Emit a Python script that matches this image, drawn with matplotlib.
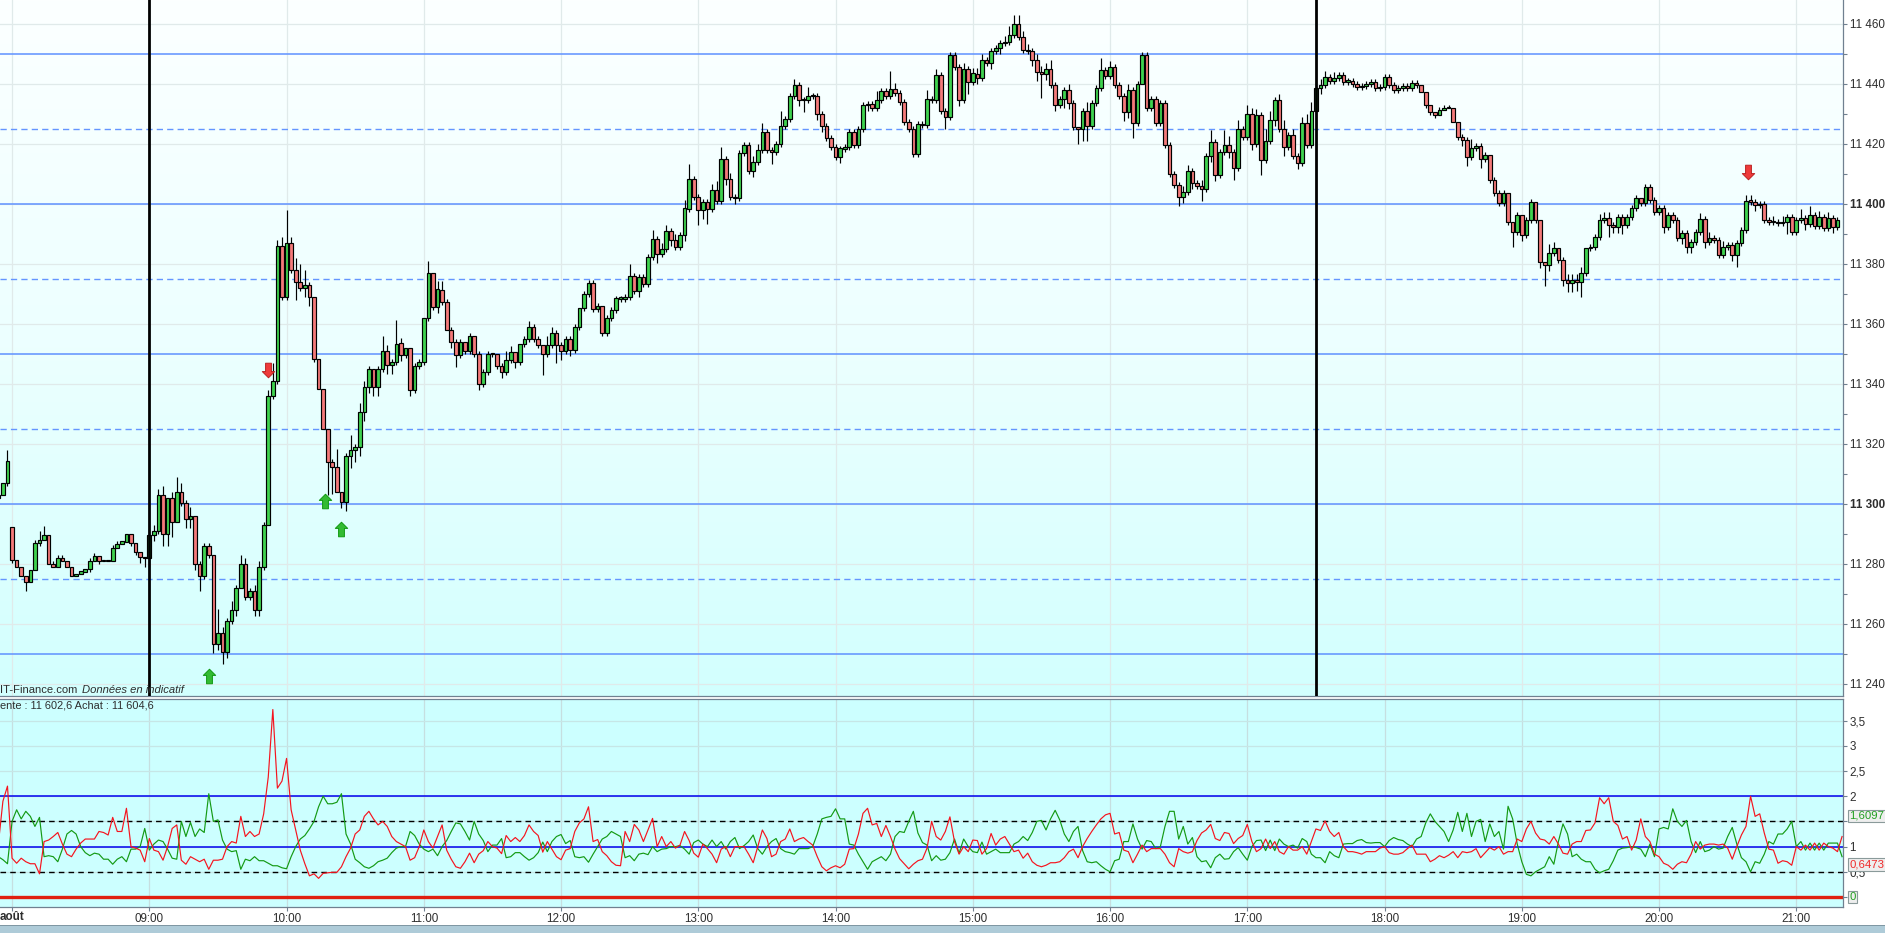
import matplotlib
matplotlib.use('Agg')
import matplotlib.pyplot as plt
import numpy as np
from matplotlib.colors import LinearSegmentedColormap
from matplotlib.path import Path
from matplotlib.patches import Rectangle

plt.rcParams['font.family'] = ['Liberation Sans', 'DejaVu Sans']

W, H = 1885, 933

# ---------- price data: 2-minute bars ----------
night_open = 11302
night_close = [11303, 11307, 11314.5]
night_up = [0, 0, 3.5]
night_dn = [0, 0, 1]

day_open = 11292.4
close_08 = [11281.3,11279,11276,11274,11278,11287,11288,11289.7,11280,11279,11282,11281,11279,11276,11276.7,11277.5,11278.5,11281,11282.7,11281,11281.5,11281,11285.5,11286.7,11287.5,11290,11287,11284,11282.5,11282]
close_09 = [11289.7,11291,11303,11290,11302,11294,11304,11300.5,11295,11296,11280,11276,11286,11283,11253.5,11257,11250.8,11261,11264.7,11272,11280,11269,11271,11264.7,11279,11293,11336,11341,11386,11369]
close_10 = [11387,11378,11374,11372,11373,11369,11348.5,11338.5,11325,11314,11312.4,11304,11300.7,11316,11318,11319,11330.7,11339,11345,11339,11345,11351,11346.3,11347.4,11353.5,11349.6,11352,11338,11346,11347.4]
close_11 = [11362,11377,11365.7,11371.5,11367.4,11358,11354,11349.6,11354,11351,11356,11350,11340,11344,11350,11350,11346,11344,11348,11350.7,11347.4,11353.5,11355,11359,11355,11353,11350,11353,11357,11353]
close_12 = [11351,11355,11351.5,11359,11365.5,11370,11373.7,11365,11366,11356.9,11362,11364.6,11368.5,11368.5,11369,11376,11371,11375.8,11373.5,11382.4,11388.5,11383.5,11385,11391,11388,11385.7,11389.6,11398.5,11408.5,11402.4]
close_13 = [11398,11400.7,11398.5,11404.6,11401,11415,11408.5,11402.4,11401.9,11416.9,11419.6,11411,11414,11418,11424,11418,11417.4,11420,11426,11428.5,11436,11439.6,11434.6,11434.6,11436,11436,11430,11426,11422,11419]
close_14 = [11415.7,11418.5,11419,11424,11419.6,11425,11433,11433.5,11431.9,11434.6,11437.7,11436,11438.5,11437,11434,11427.4,11425,11416.6,11426.6,11426.3,11434.9,11434.6,11443,11431,11429,11449.6,11445.7,11434.6,11445,11440.7]
close_15 = [11443.5,11441.9,11448,11447,11451,11452,11453.6,11454,11456.3,11460,11455.6,11451.3,11451,11448,11444,11443.5,11445,11439.7,11433,11435,11438,11433.6,11425.8,11425,11431,11426,11433.6,11438.6,11444.7,11442.7]
close_16 = [11445.8,11439.7,11436,11430.8,11438,11427,11440,11449.7,11431.9,11435,11427,11433.6,11419.7,11410,11406.3,11402.4,11404,11411,11407,11406,11405,11416,11420.8,11409.7,11417.4,11419.7,11417.4,11412,11425,11422.4]
close_17 = [11430,11420,11429.7,11414.7,11421,11428,11434.7,11425,11419,11423,11416,11413.6,11427,11419.7,11431,11438.6,11439.7,11442.4,11441,11442,11443,11440.8,11441,11440,11439,11439.3,11440,11440.8,11438.6,11439]
close_18 = [11442.4,11439.7,11438,11438.6,11439.3,11438.6,11440.4,11439.7,11437.4,11433,11430.8,11429.7,11431.3,11431.9,11431.9,11427.4,11422.4,11421.3,11415.8,11418.6,11419.3,11415,11416.3,11408,11403.6,11400.4,11403.8,11394,11390.8,11396.3]
close_19 = [11389.7,11394.7,11400.8,11394.7,11380.8,11379.7,11383.6,11385.2,11381.3,11374.7,11373.6,11374.7,11374,11376.9,11385.2,11385.8,11389,11394.7,11395.2,11393,11392.4,11395.8,11393,11395.8,11398.6,11401.9,11400.2,11405.8,11401.3,11397.4]
close_20 = [11398.6,11392.4,11396.3,11394.7,11388.6,11390.2,11385.8,11387.4,11390.8,11394.9,11387.4,11388.6,11388,11383,11385.8,11386.3,11383,11386.9,11391.3,11401,11400.8,11399.7,11400,11394.7,11394,11394,11393.6,11394,11395.8,11390.8]
close_21 = [11394.7,11395.2,11393.3,11396.3,11392.7,11395.8,11391.9,11395.2,11392.4,11394.7]

up_08 = [0,0,0,0,0,1,3,3,0,1,1,1,0,0,0,0,0,1,1,0,0,0,1,1,0,0,0,0,0,0]
dn_08 = [1,0,0,3,0,0,1,0,0,0,0,0,0,0,0,0,0,1,0,1,0,0,0,0,0,0,1,1,2,3]
up_09 = [2,2,2,3,0,2,5,3,1,3,0,1,1,1,0,8,2,1,3,1,3,2,1,2,2,1,2,6,2,3]
dn_09 = [3,2,1,4,4,5,0,1,3,3,2,5,1,1,3,2,4,2,1,2,0,1,1,2,2,1,0,1,1,1]
up_10 = [11,2,4,6,5,1,0,0,0,0,1,6,0,1,5,1,3,2,1,0,1,5,2,1,8,2,0,0,1,1]
dn_10 = [1,1,6,1,3,3,1,0,0,11,9,0,2,3,4,4,3,3,2,3,3,1,3,3,1,2,1,2,1,1]
up_11 = [0,4,0,3,3,1,1,1,1,0,1,0,1,1,1,0,0,1,3,2,0,0,1,2,1,1,0,3,2,1]
dn_11 = [1,1,1,2,1,0,2,4,1,1,1,1,2,1,1,1,1,2,1,1,2,1,1,1,1,1,7,1,1,6]
up_12 = [1,1,1,1,0,1,1,1,1,0,1,1,1,1,1,4,1,1,1,1,3,1,2,2,1,2,1,3,5,1]
dn_12 = [3,1,2,1,1,1,1,1,1,1,1,1,1,1,1,1,1,2,1,1,1,3,1,1,2,1,1,2,1,1]
up_13 = [1,1,1,2,3,4,1,2,1,1,1,1,2,2,3,1,1,1,5,1,1,2,1,1,3,1,1,1,1,1]
dn_13 = [5,3,5,1,1,1,2,1,2,1,1,1,2,1,1,1,4,1,1,1,1,1,2,4,1,1,2,2,1,1]
up_14 = [1,1,1,1,1,1,1,1,1,3,1,1,6,2,1,1,1,1,1,1,3,1,2,1,1,1,1,1,2,1]
dn_14 = [1,2,1,1,1,1,1,2,1,1,1,1,1,1,1,1,1,1,1,1,1,1,1,1,4,1,1,2,1,4]
up_15 = [2,2,2,1,1,1,1,2,3,3,3,2,2,1,2,2,2,3,1,1,1,2,1,0,1,3,1,1,4,1]
dn_15 = [1,2,1,1,2,1,2,1,1,1,1,1,1,2,3,8,2,1,2,1,3,2,1,5,4,5,1,1,1,1]
up_16 = [2,1,1,1,2,1,1,1,1,1,1,1,1,1,1,1,2,2,1,1,2,1,4,1,1,5,3,1,3,1]
dn_16 = [1,1,1,3,2,5,1,0,1,1,1,1,1,1,1,3,2,1,2,1,4,1,2,2,1,1,2,4,1,1]
up_17 = [3,2,2,1,4,3,1,2,3,1,2,1,2,3,3,1,2,2,1,2,1,1,1,1,1,1,1,1,1,1]
dn_17 = [1,2,1,5,1,1,2,1,3,1,1,2,1,1,1,1,2,1,1,1,1,1,1,1,1,1,1,1,1,1]
up_18 = [1,1,1,1,1,1,1,1,0,0,0,0,1,1,1,0,0,1,1,3,1,1,1,0,1,1,1,0,0,1]
dn_18 = [1,1,1,1,1,1,1,1,0,1,1,1,0,0,0,0,1,2,3,1,1,3,1,1,1,1,1,1,5,1]
up_19 = [0,1,1,0,0,0,3,2,0,1,2,2,2,2,0,1,1,2,2,2,1,1,1,1,1,1,0,1,1,1]
dn_19 = [2,1,1,1,2,7,2,1,1,2,3,3,3,5,1,1,1,1,1,4,2,2,3,1,1,1,1,1,1,1]
up_20 = [1,1,1,1,1,1,1,1,1,2,1,2,1,1,2,1,1,1,1,2,2,1,1,1,1,2,1,2,1,1]
dn_20 = [1,2,1,1,1,2,2,2,1,1,2,1,1,1,1,1,2,4,1,1,1,2,1,1,1,1,1,1,4,1]
up_21 = [1,3,1,3,1,2,1,2,1,1]
dn_21 = [1,1,2,1,1,1,1,1,2,1]

# ---------- indicator data ----------
red_line = [1.05,1.9,2.2,
 .77,.67,.77,.7,.66,.66,.46,1.1,1.13,1.2,1.28,1.05,.85,.8,.95,1.07,1.15,1.15,1.15,1.3,1.28,1.23,1.58,1.3,1.3,1.76,1.0,.97,.93,.7,
 1.16,.93,.9,.73,1.0,1.36,1.43,.73,.65,.8,.75,.7,.75,.55,.73,.73,.75,1.0,1.1,1.07,1.6,1.2,1.3,1.2,1.25,1.65,2.38,3.72,2.16,2.3,
 2.75,1.73,1.33,.93,.66,.42,.46,.37,.47,.48,.49,.49,.6,.8,.97,1.25,1.33,1.6,1.7,1.55,1.43,1.5,1.4,1.2,1.1,1.05,1.0,.73,.78,1.0,
 1.33,1.1,.97,1.2,1.43,.93,.75,.6,.57,.7,.87,.68,.85,.92,1.1,1.0,.97,
 .86,1.22,1.1,1.18,1.1,1.22,1.43,1.3,1.22,.89,1.1,.95,.8,
 .74,.93,.96,1.3,1.47,1.55,1.79,1.1,1.14,.9,.82,.7,.63,.62,1.3,1.1,1.44,1.33,1.1,1.33,1.56,1.0,1.2,1.0,1.1,.97,1.03,1.3,1.12,.87,
 .79,1.05,.96,.85,.68,.95,1.0,.8,1.0,1.0,1.0,.85,.68,1.0,1.33,1.16,.8,.85,1.1,1.15,1.35,1.1,1.15,1.18,1.1,1.03,.8,.6,.52,.58,
 .62,.58,.65,.95,.96,1.25,1.66,1.76,1.43,1.46,1.2,1.42,1.2,.95,.76,.66,.56,.65,.72,.75,.97,1.5,1.2,1.13,1.3,1.59,1.1,.85,1.0,.9,
 1.13,1.12,.85,.96,1.26,1.03,1.15,1.2,1.05,.9,
 .93,.77,.87,.7,.63,.6,.63,.68,.68,.7,.78,.9,.95,.78,1.0,1.16,1.3,1.43,1.55,1.63,
 1.66,1.25,1.28,.93,.9,.68,.85,1.03,.9,.96,.96,.96,.85,.68,.6,.96,.9,.87,.9,1.12,1.27,1.33,1.44,1.16,1.12,1.28,1.26,1.06,1.16,1.22,
 1.44,1.1,.9,.96,1.15,.96,1.1,.9,.85,1.0,.93,.93,1.0,.85,1.1,1.35,1.32,1.51,1.3,1.2,1.28,1.0,.9,.9,.88,.85,.9,.9,.9,.97,
 1.0,.88,.85,.85,.88,.96,1.03,.85,.85,.85,.7,.75,.82,.78,.83,.9,.78,.9,.88,.9,.96,.78,.88,.98,.93,1.0,.85,.9,.9,1.15,
 1.1,1.35,1.5,1.27,1.15,1.13,1.05,1.2,1.05,.87,.85,1.05,1.1,1.1,1.32,1.33,1.47,1.97,1.85,1.97,1.5,1.42,1.15,1.2,.93,1.13,1.55,1.2,1.1,.85,
 .8,.67,.63,.55,.65,.7,.68,.85,1.1,.95,1.03,1.05,1.05,1.03,1.05,.97,.75,1.0,1.23,1.4,2.0,1.6,1.65,1.27,.95,.93,.67,.72,.7,.63,
 1.0,.93,1.03,.93,1.07,.93,1.07,1.0,.97,.9,1.2]
green_line = [.8,.74,.66,
 1.5,1.73,1.55,1.7,1.6,1.4,1.58,.8,.82,.8,.7,.95,1.25,1.32,1.25,1.0,.88,.82,.87,.85,.75,.75,.65,.75,.8,.7,.95,.95,1.0,1.36,
 .93,1.05,1.13,1.1,.95,.77,.75,1.5,1.2,1.48,1.2,1.35,1.28,2.05,1.5,1.53,1.13,.95,.9,.92,.55,.75,.72,.8,.72,.72,.67,.62,.62,.58,
 .56,.8,1.0,1.15,1.22,1.35,1.5,1.79,2.0,1.85,1.85,1.88,2.05,1.25,1.05,.75,.68,.6,.57,.62,.7,.73,.77,.88,.97,1.0,1.0,1.3,1.22,1.05,
 .95,.9,.95,.82,1.0,1.12,1.3,1.47,1.45,1.3,1.13,1.5,1.25,1.12,.9,1.03,1.03,
 1.16,.78,.8,.88,.88,.8,.73,.78,.88,1.09,.9,1.1,1.2,
 1.24,1.06,1.12,.8,.78,.8,.69,.85,1.0,1.15,1.2,1.3,1.25,1.2,.78,.82,.72,.85,.87,.84,1.0,.9,.95,.96,1.0,1.0,1.02,.95,.85,1.08,
 1.13,1.05,1.0,1.13,1.0,1.1,.95,1.1,1.18,.96,1.02,1.1,1.23,.96,.85,1.0,1.1,1.16,.96,.9,.88,.85,.96,.96,.96,1.0,1.25,1.55,1.58,1.6,
 1.75,1.55,1.55,1.05,1.03,.85,.7,.55,.7,.75,.8,.72,.85,1.2,1.3,1.28,1.5,1.7,1.27,1.08,1.03,.72,.82,.73,.75,.88,1.15,.87,1.15,1.0,
 .9,.88,1.09,.85,.9,.95,.88,.88,.88,1.05,
 1.1,1.2,1.12,1.28,1.5,1.52,1.33,1.55,1.72,1.53,1.25,1.1,1.3,1.4,.92,.7,.68,.7,.62,.55,
 .5,.72,.75,1.1,1.1,1.45,1.15,.95,1.12,1.1,.96,1.0,1.4,1.7,1.7,1.15,1.4,1.05,1.18,.8,.7,.72,.58,.78,.85,.75,.76,.9,.98,.85,
 .73,1.0,1.12,1.13,.92,1.13,.92,1.15,1.05,1.0,1.03,.97,1.16,1.1,.85,.78,.78,.68,.9,.82,.78,1.05,1.06,1.06,1.12,1.14,1.08,1.07,1.08,1.08,
 1.0,1.12,1.18,1.14,1.12,1.05,1.0,1.15,1.2,1.47,1.65,1.5,1.4,1.3,1.1,1.33,1.68,1.3,1.66,1.2,1.5,1.54,1.1,1.45,1.2,1.3,.95,1.8,1.55,1.05,
 .7,.45,.42,.5,.55,.6,.8,.65,1.1,1.45,1.25,.8,.85,.75,.7,.7,.55,.48,.52,.55,.72,.93,.97,.98,1.0,.98,.95,.8,1.05,.8,
 1.35,1.38,1.35,1.75,1.5,1.4,1.52,1.1,.88,1.1,.9,.93,1.0,.95,.97,1.2,1.38,1.05,.78,.7,.5,.7,.67,.85,1.1,1.05,1.25,1.25,1.35,1.5,
 1.0,1.1,.93,1.07,.93,1.07,.93,1.07,1.07,1.07,.8]

sell_text = 'ente : 11 602,6 Achat : 11 604,6'
source_text = 'IT-Finance.com'
notice_text = 'Données en indicatif'
solid_levels = [11250, 11300, 11350, 11400, 11450]
dashed_levels = [11275, 11325, 11375, 11425]
session_marks = [540, 1050]          # 09:00 and 17:30, in minutes
up_arrow_t = [566, 616.6, 623.8]
up_arrow_p = [11242.8, 11301, 11291.7]
down_arrow_t = [592, 1239]
down_arrow_p = [11344.7, 11410.8]
hour_labels = ['09:00','10:00','11:00','12:00','13:00','14:00','15:00','16:00','17:00','18:00','19:00','20:00','21:00']
hour_ticks = [540 + 60 * i for i in range(len(hour_labels))]
green_last, red_last = 1.6097, 0.6473

# ---------- assemble ----------
day_close = sum([close_08,close_09,close_10,close_11,close_12,close_13,close_14,close_15,close_16,close_17,close_18,close_19,close_20,close_21], [])
day_up = sum([up_08,up_09,up_10,up_11,up_12,up_13,up_14,up_15,up_16,up_17,up_18,up_19,up_20,up_21], [])
day_dn = sum([dn_08,dn_09,dn_10,dn_11,dn_12,dn_13,dn_14,dn_15,dn_16,dn_17,dn_18,dn_19,dn_20,dn_21], [])

c = np.array(night_close + day_close, float)
o = np.array([night_open] + night_close[:-1] + [day_open] + day_close[:-1], float)
up = np.array(night_up + day_up, float)
dn = np.array(night_dn + day_dn, float)
t = 474 + 2.0 * np.arange(len(c))
hi = np.maximum(o, c) + up
lo = np.minimum(o, c) - dn

def px_x(v): return v / W
def px_y(v): return 1 - v / H

fig = plt.figure(figsize=(W / 100, H / 100), dpi=100, facecolor='white')
R = 1842.7
ax = fig.add_axes([0, px_y(696), R / W, 696 / H])
ax2 = fig.add_axes([0, px_y(906.5), R / W, (906.5 - 699) / H], sharex=ax)

axis_col = '#708090'
txt_col = '#2e2e2e'
xlim = (474.73, 474.73 + R / 2.2875)
ylim = (11236, 11468)
ylim2 = ((897 - 906.5) / 50.4, (897 - 699) / 50.4)

cmap = LinearSegmentedColormap.from_list('bg', ['#fcffff', '#ecffff', '#d2fffe'])
ax.imshow(np.linspace(0, 1, 256).reshape(-1, 1), cmap=cmap, aspect='auto',
          extent=(0, 1, 0, 1), transform=ax.transAxes, zorder=0)
ax2.set_facecolor('#ccffff')

# grids
grid_col = '#e0eaea'
for y in range(11240, 11461, 20):
    ax.axhline(y, color=grid_col, lw=0.9, zorder=1)
for x in [480] + hour_ticks:
    ax.axvline(x, color=grid_col, lw=0.9, zorder=1)
    ax2.axvline(x, color='#c6dfe0', lw=0.9, zorder=1)
for y in np.arange(0.5, 4, 0.5):
    ax2.axhline(y, color='#c6e6e6', lw=0.9, zorder=1)

# levels
for y in solid_levels:
    ax.axhline(y, color='#6495ff', lw=1.15, zorder=2)
for y in dashed_levels:
    ax.plot(xlim, [y, y], color='#6495ff', lw=1.0, ls=(0, (4.5, 3)), zorder=2)

# candles
ax.vlines(t, lo, hi, color='black', lw=0.85, zorder=3)
bottoms = np.minimum(o, c)
heights = np.maximum(np.abs(c - o), 0.4)
cols = np.where(c >= o, '#3fd24f', '#f47a7a')
ax.bar(t, heights, bottom=bottoms, width=1.6, color=cols, edgecolor='black', linewidth=0.85, zorder=4)

# session lines
for x in session_marks:
    ax.axvline(x, color='black', lw=2.0, zorder=5)

# arrows
arrow_up = Path([(0, 1), (.85, .15), (.4, .15), (.4, -1), (-.4, -1), (-.4, .15), (-.85, .15), (0, 1)], closed=True)
arrow_dn = Path([(0, -1), (.85, -.15), (.4, -.15), (.4, 1), (-.4, 1), (-.4, -.15), (-.85, -.15), (0, -1)], closed=True)
ax.scatter(up_arrow_t, up_arrow_p, marker=arrow_up, s=110, color='#33bb33', edgecolors='#119911', linewidths=0.7, zorder=6)
ax.scatter(down_arrow_t, down_arrow_p, marker=arrow_dn, s=110, color='#ee3b3b', edgecolors='#bb2222', linewidths=0.7, zorder=6)

# lower panel
ax2.axhline(2, color='#0000ee', lw=1.1, zorder=2)
ax2.axhline(1, color='#0000ee', lw=1.1, zorder=2)
for y in (1.5, 0.5):
    ax2.axhline(y, color='black', lw=1.0, ls=(0, (4, 3)), zorder=2)
ax2.axhline(0, color='#e02010', lw=2.4, zorder=2)
t2_g = 474 + 2.0 * np.arange(len(green_line))
t2_r = 474 + 2.0 * np.arange(len(red_line))
ax2.plot(t2_g, green_line, color='#149a14', lw=0.85, zorder=3)
ax2.plot(t2_r, red_line, color='#f5141e', lw=0.85, zorder=4)

# axes cosmetics
ax.set_xlim(*xlim); ax.set_ylim(*ylim)
ax2.set_xlim(*xlim); ax2.set_ylim(*ylim2)
for a in (ax, ax2):
    a.spines['left'].set_visible(False)
    for s in ('top', 'right', 'bottom'):
        a.spines[s].set_color(axis_col)
        a.spines[s].set_linewidth(0.9)
    a.yaxis.tick_right()
ax.spines['top'].set_visible(False)

def space_fmt(v):
    return f'{v // 1000} {v % 1000:03d}'

main_ticks = list(range(11240, 11461, 20))
ax.set_yticks(main_ticks)
ax.set_yticklabels([space_fmt(v) for v in main_ticks])
ax.set_yticks(list(range(11250, 11460, 20)), minor=True)
ax.tick_params(axis='y', which='major', length=3, width=0.8, color=axis_col, labelcolor=txt_col, labelsize=8.4, pad=2)
ax.tick_params(axis='y', which='minor', length=3, width=0.8, color=axis_col)
for lab, v in zip(ax.get_yticklabels(), main_ticks):
    if v in (11300, 11400):
        lab.set_fontweight('bold')
ax.tick_params(axis='x', which='both', bottom=False, labelbottom=False)

# the 1,5 and 0 tick labels sit under the value tags and cannot be read
t2 = [0, 0.5, 1, 1.5, 2, 2.5, 3, 3.5]
t2_shown = {0.5: '0,5', 1: '1', 2: '2', 2.5: '2,5', 3: '3', 3.5: '3,5'}
ax2.set_yticks(t2)
ax2.set_yticklabels([t2_shown.get(v, '') for v in t2])
ax2.tick_params(axis='y', length=3, width=0.8, color=axis_col, labelcolor=txt_col, labelsize=8.4, pad=2)
ax2.set_xticks([480] + hour_ticks)
ax2.set_xticklabels([''] + hour_labels)
ax2.tick_params(axis='x', length=3, width=0.8, color=axis_col, labelcolor=txt_col, labelsize=8.4, pad=1.5)

# value tags
trans = ax2.get_yaxis_transform()
box = dict(boxstyle='square,pad=0.12', fc='#eeeeee', ec='#8a9a9a', lw=0.8)
ax2.text(1.0037, green_last, f'{green_last}'.replace('.', ','), transform=trans, color='#22a022', fontsize=8.2,
         va='center', ha='left', bbox=box, zorder=10, clip_on=False)
ax2.text(1.0037, red_last, f'{red_last}'.replace('.', ','), transform=trans, color='#f02a2a', fontsize=8.2,
         va='center', ha='left', bbox=box, zorder=10, clip_on=False)
ax2.text(1.0037, 0, '0', transform=trans, color='#22a022', fontsize=8.2,
         va='center', ha='left', bbox=box, zorder=10, clip_on=False)

# captions
fig.text(px_x(0), px_y(690), source_text, fontsize=8.1, color=txt_col, va='center', ha='left', zorder=20)
fig.text(px_x(82), px_y(690), notice_text, fontsize=8.1, color=txt_col, style='italic', va='center', ha='left', zorder=20)
fig.text(px_x(0), px_y(706), sell_text, fontsize=7.9, color=txt_col, va='center', ha='left', zorder=20)
fig.text(px_x(0), px_y(917), 'août', fontsize=8.4, fontweight='bold', color=txt_col, va='center', ha='left', zorder=20)

# bottom strip
fig.add_artist(Rectangle((0, 0), 1, 7 / H, transform=fig.transFigure, fc='#aecbd8', ec='none'))
fig.add_artist(Rectangle((0, 7 / H), 1, 1.2 / H, transform=fig.transFigure, fc='#7f97a3', ec='none'))

fig.savefig('out.png', dpi=100, facecolor='white')
